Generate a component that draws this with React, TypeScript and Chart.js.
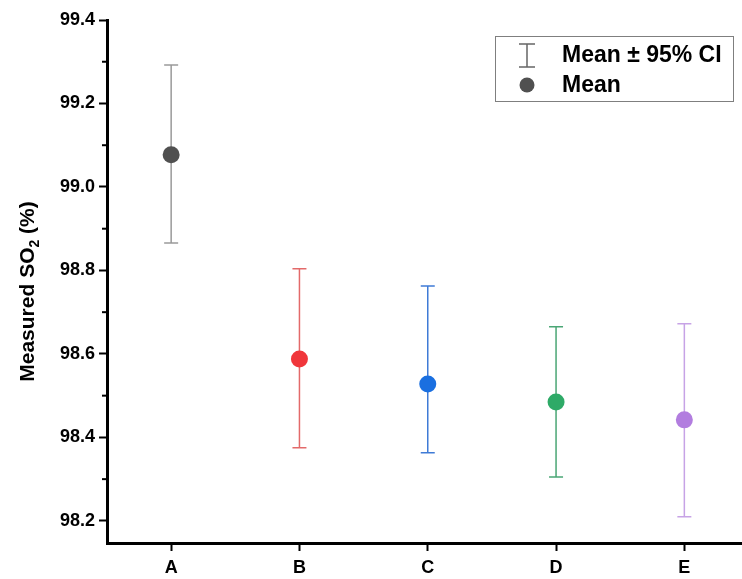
import React, { useEffect, useRef } from "react";
import { Chart, registerables } from "chart.js";

Chart.register(...registerables);

// ---- data ----
const categories = ["A", "B", "C", "D", "E"];
const means = [99.077, 98.588, 98.528, 98.485, 98.442];
const ciUpper = [99.292, 98.804, 98.763, 98.665, 98.672];
const ciLower = [98.866, 98.375, 98.363, 98.305, 98.21];
const pointColors = ["#505050", "#f0363b", "#1a6fe0", "#2eaa67", "#b27ddf"];
const barColors = ["#9a9a9a", "#e36a6a", "#3f7bd6", "#4aa675", "#c7a3e6"];
const yMajorTicks = [98.2, 98.4, 98.6, 98.8, 99.0, 99.2, 99.4];
const yMinorTicks = [98.3, 98.5, 98.7, 98.9, 99.1, 99.3];
const yMin = 98.147;
const yMax = 99.4;
const yTitleParts = ["Measured SO", "2", " (%)"];
const legendLabels = ["Mean \u00b1 95% CI", "Mean"];

const FONT = '"Liberation Sans", Arial, Helvetica, sans-serif';

const errorBarPlugin = {
  id: "errorBars",
  beforeDatasetsDraw(chart: any) {
    const { ctx } = chart;
    const xs = chart.scales.x;
    const ys = chart.scales.y;
    ctx.save();
    categories.forEach((_c, i) => {
      const px = xs.getPixelForValue(i);
      const yt = ys.getPixelForValue(ciUpper[i]);
      const yb = ys.getPixelForValue(ciLower[i]);
      ctx.strokeStyle = barColors[i];
      ctx.lineWidth = 1.5;
      ctx.beginPath();
      ctx.moveTo(px, yt);
      ctx.lineTo(px, yb);
      ctx.moveTo(px - 7, yt);
      ctx.lineTo(px + 7, yt);
      ctx.moveTo(px - 7, yb);
      ctx.lineTo(px + 7, yb);
      ctx.stroke();
    });
    ctx.restore();
  },
};

const decorPlugin = {
  id: "decor",
  afterDraw(chart: any) {
    const { ctx, chartArea } = chart;
    const ys = chart.scales.y;
    ctx.save();
    // minor ticks on y axis
    ctx.strokeStyle = "#000";
    ctx.lineWidth = 2;
    yMinorTicks.forEach((v) => {
      const py = ys.getPixelForValue(v);
      ctx.beginPath();
      ctx.moveTo(chartArea.left - 5, py);
      ctx.lineTo(chartArea.left, py);
      ctx.stroke();
    });

    // y axis title with subscript
    const big = `bold 21px ${FONT}`;
    const small = `bold 14px ${FONT}`;
    ctx.font = big;
    const w0 = ctx.measureText(yTitleParts[0]).width;
    const w2 = ctx.measureText(yTitleParts[2]).width;
    ctx.font = small;
    const w1 = ctx.measureText(yTitleParts[1]).width;
    const total = w0 + w1 + w2;
    const cy = (chartArea.top + chartArea.bottom) / 2 + 10;
    ctx.translate(34, cy);
    ctx.rotate(-Math.PI / 2);
    ctx.fillStyle = "#000";
    ctx.textBaseline = "alphabetic";
    ctx.textAlign = "left";
    let x = -total / 2;
    ctx.font = big;
    ctx.fillText(yTitleParts[0], x, 0);
    x += w0;
    ctx.font = small;
    ctx.fillText(yTitleParts[1], x, 5);
    x += w1;
    ctx.font = big;
    ctx.fillText(yTitleParts[2], x, 0);
    ctx.setTransform(1, 0, 0, 1, 0, 0);
    ctx.restore();

    // legend
    ctx.save();
    const bx = 495.5, by = 36.5, bw = 238, bh = 65;
    ctx.fillStyle = "#fff";
    ctx.fillRect(bx, by, bw, bh);
    ctx.strokeStyle = "#7f7f7f";
    ctx.lineWidth = 1;
    ctx.strokeRect(bx, by, bw, bh);
    // error bar icon
    ctx.strokeStyle = "#666";
    ctx.lineWidth = 1.5;
    ctx.beginPath();
    ctx.moveTo(527, 44);
    ctx.lineTo(527, 67);
    ctx.moveTo(519, 44);
    ctx.lineTo(535, 44);
    ctx.moveTo(519, 67);
    ctx.lineTo(535, 67);
    ctx.stroke();
    // circle icon
    ctx.fillStyle = pointColors[0];
    ctx.beginPath();
    ctx.arc(527, 85, 7.5, 0, Math.PI * 2);
    ctx.fill();
    ctx.fillStyle = "#000";
    ctx.font = `bold 23px ${FONT}`;
    ctx.textBaseline = "middle";
    ctx.textAlign = "left";
    ctx.fillText(legendLabels[0], 562, 56);
    ctx.fillText(legendLabels[1], 562, 86);
    ctx.restore();
  },
};

export default function App() {
  const ref = useRef<HTMLCanvasElement | null>(null);
  useEffect(() => {
    if (!ref.current) return;
    const chart = new Chart(ref.current, {
      type: "line",
      data: {
        labels: categories,
        datasets: [
          {
            data: means,
            showLine: false,
            pointRadius: 8.5,
            pointHoverRadius: 8.5,
            pointBackgroundColor: pointColors,
            pointBorderColor: pointColors,
            pointBorderWidth: 0,
          },
        ],
      },
      options: {
        responsive: false,
        animation: false,
        devicePixelRatio: 1,
        layout: { padding: { top: 20, right: 0, bottom: 0, left: 0 } },
        plugins: { legend: { display: false }, tooltip: { enabled: false } },
        scales: {
          x: {
            type: "category",
            offset: true,
            afterFit: (s: any) => {
              s.height = 36;
            },
            grid: {
              offset: false,
              drawOnChartArea: false,
              tickLength: 8,
              tickWidth: 2,
              tickColor: "#000",
            },
            border: { display: true, color: "#000", width: 3 },
            ticks: {
              color: "#000",
              font: { family: FONT, size: 18, weight: "bold" },
              padding: 6,
            },
          },
          y: {
            type: "linear",
            min: yMin,
            max: yMax,
            afterBuildTicks: (s: any) => {
              s.ticks = yMajorTicks.map((v) => ({ value: v }));
            },
            afterFit: (s: any) => {
              s.width = 107;
            },
            grid: {
              drawOnChartArea: false,
              tickLength: 8,
              tickWidth: 2,
              tickColor: "#000",
            },
            border: { display: true, color: "#000", width: 3 },
            ticks: {
              color: "#000",
              font: { family: FONT, size: 18, weight: "bold" },
              padding: 4,
              callback: (v: any) => Number(v).toFixed(1),
            },
          },
        },
      },
      plugins: [errorBarPlugin, decorPlugin],
    } as any);
    return () => chart.destroy();
  }, []);

  return (
    <div
      style={{
        position: "absolute",
        left: 0,
        top: 0,
        width: 742,
        height: 579,
        overflow: "hidden",
        background: "#fff",
      }}
    >
      <canvas ref={ref} width={757} height={579} style={{ width: 757, height: 579, display: "block" }} />
    </div>
  );
}
